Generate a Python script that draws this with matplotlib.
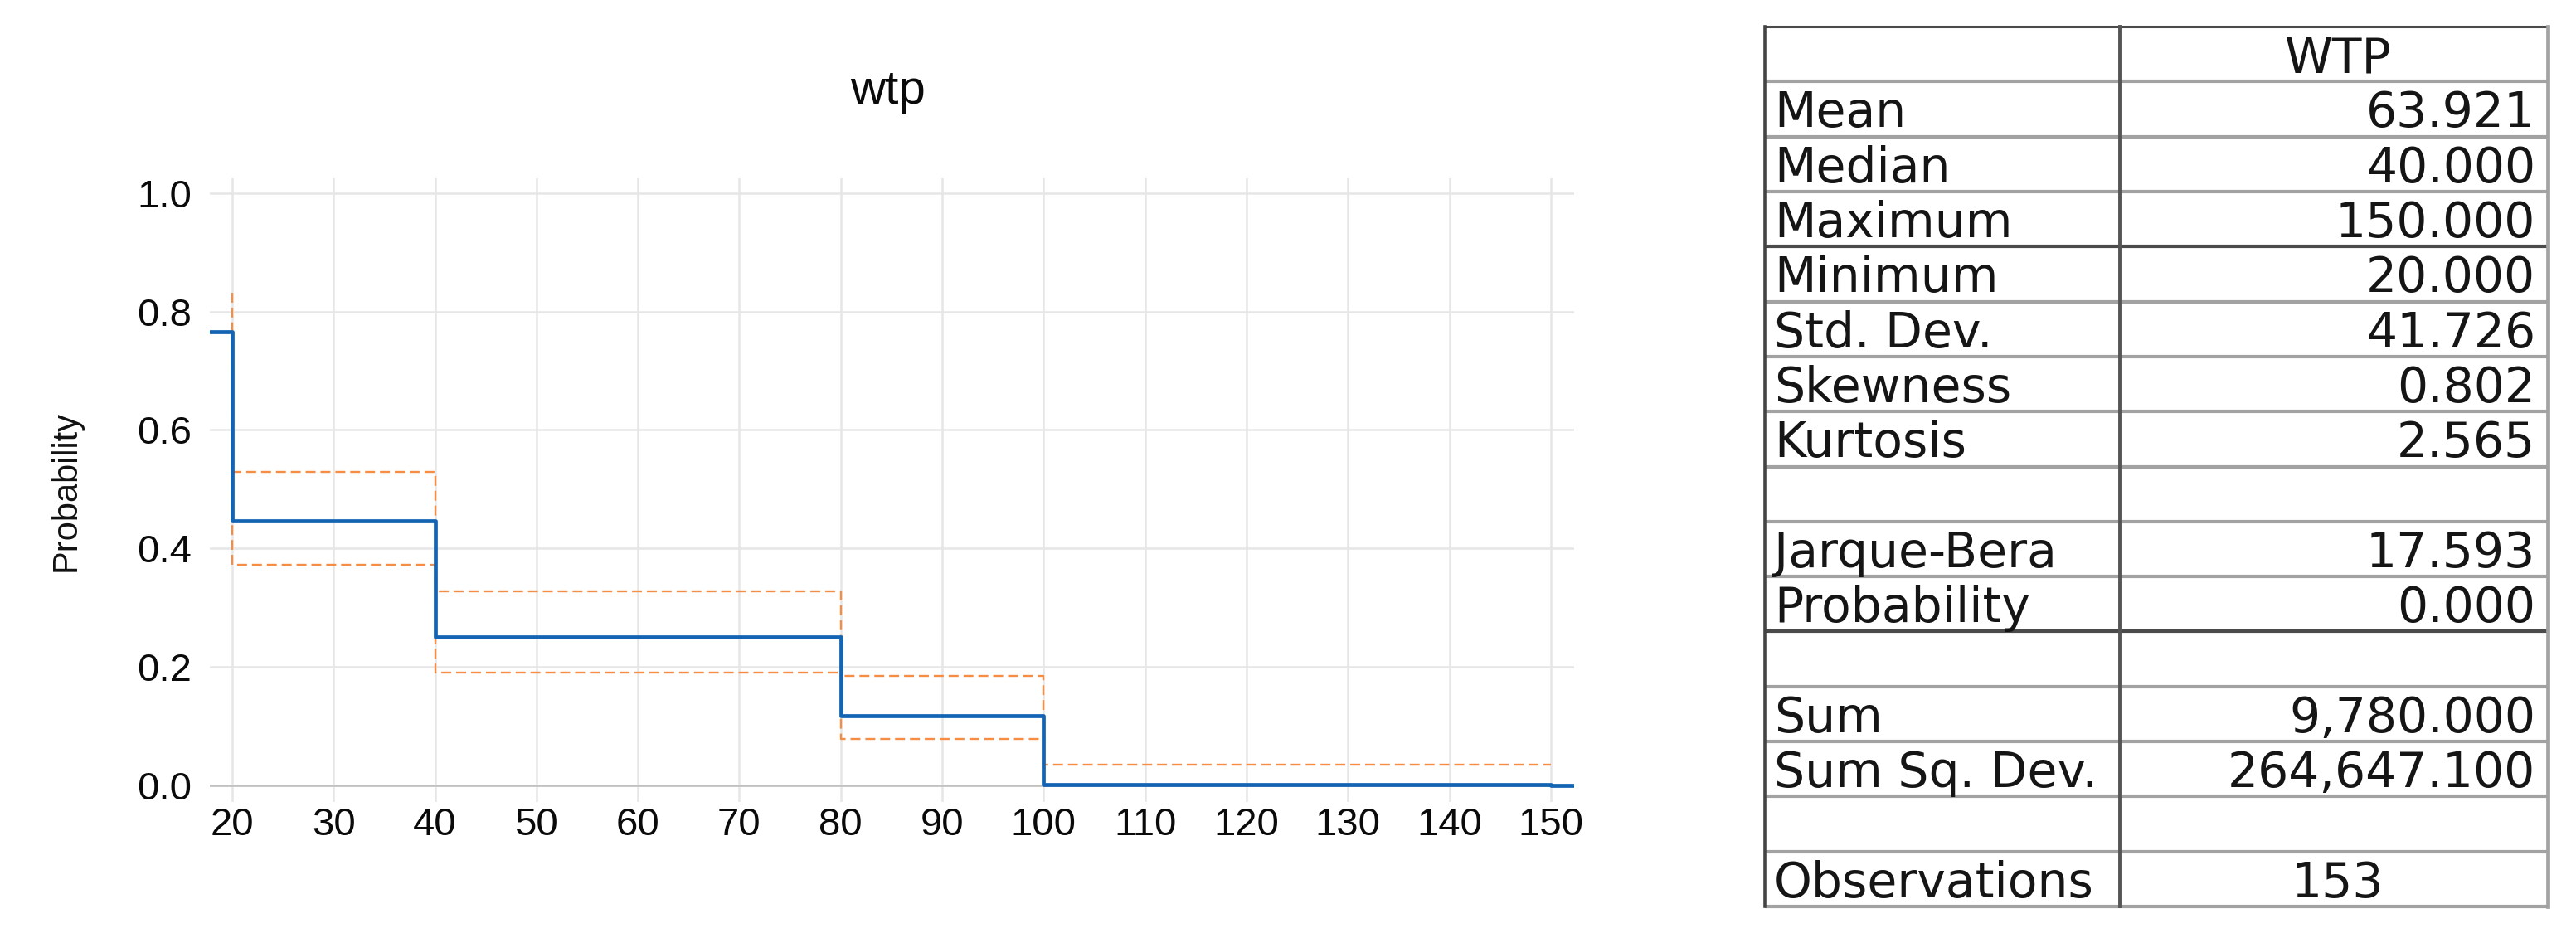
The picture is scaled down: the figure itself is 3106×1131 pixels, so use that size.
import matplotlib
matplotlib.use('Agg')
import matplotlib.pyplot as plt
from matplotlib.ticker import FormatStrFormatter

plt.rcParams['font.family'] = ['Liberation Sans', 'DejaVu Sans']
plt.rcParams['lines.scale_dashes'] = False

# ---------------- data ----------------
title = "wtp"
y_label = "Probability"
x_ticks = [20, 30, 40, 50, 60, 70, 80, 90, 100, 110, 120, 130, 140, 150]
y_ticks = [0.0, 0.2, 0.4, 0.6, 0.8, 1.0]
x_min, x_max = 17.8, 152.3

# estimated probability (step, 'post')
prob_x = [x_min, 20, 40, 80, 100, 150, x_max]
prob_y = [0.766, 0.447, 0.250, 0.118, 0.002, 0.0, 0.0]

# confidence bands (step, 'post')
band_x = [20, 20, 40, 80, 100, 150]
upper_y = [0.831, 0.529, 0.328, 0.185, 0.035, 0.035]
lower_y = [0.690, 0.372, 0.191, 0.079, 0.0, 0.0]

stat_names = ["", "Mean", "Median", "Maximum", "Minimum", "Std. Dev.", "Skewness",
              "Kurtosis", "", "Jarque-Bera", "Probability", "", "Sum",
              "Sum Sq. Dev.", "", "Observations"]
stat_values = ["WTP", "63.921", "40.000", "150.000", "20.000", "41.726", "0.802",
               "2.565", "", "17.593", "0.000", "", "9,780.000", "264,647.100",
               "", "153"]

# ---------------- figure ----------------
W, H = 3106, 1131
fig = plt.figure(figsize=(W / 100, H / 100), dpi=100)

ax = fig.add_axes([253 / W, 164 / H, (1898 - 253) / W, (916 - 164) / H])
ax.set_xlim(x_min, x_max)
ax.set_ylim(-0.028, 1.0248)

blue = '#1464b4'
orange = '#f58d45'

ax.step(band_x, upper_y, where='post', color=orange, lw=1.7,
        dashes=(8.6, 4.3), zorder=3)
ax.step(band_x, lower_y, where='post', color=orange, lw=1.7,
        dashes=(8.6, 4.3), zorder=3)
ax.step(prob_x, prob_y, where='post', color=blue, lw=3.4, zorder=4)

ax.set_xticks(x_ticks)
ax.set_yticks(y_ticks)
ax.yaxis.set_major_formatter(FormatStrFormatter('%.1f'))
ax.grid(True, color='#e6e6e6', lw=1.8)
ax.set_axisbelow(True)
ax.axhline(0, color='#c0c0c0', lw=1.8, zorder=2)
for s in ax.spines.values():
    s.set_visible(False)
ax.tick_params(axis='both', length=0, labelsize=34, colors='#0a0a0a')
ax.tick_params(axis='y', pad=15.5)
ax.tick_params(axis='x', pad=4)

ax.set_ylabel(y_label, fontsize=30, color='#111111')
ax.yaxis.set_label_coords(-0.093, 0.4987)

fig.text(1071 / W, (H - 125) / H, title, ha='center', va='baseline',
         fontsize=42, color='#0a0a0a')

# ---------------- statistics table ----------------
tx0, tx1, ty0, ty1 = 2128, 3072, 32, 1093
tax = fig.add_axes([tx0 / W, (H - ty1) / H, (tx1 - tx0) / W, (ty1 - ty0) / H])
tax.set_xlim(0, 1)
tax.set_ylim(len(stat_names), 0)
tax.axis('off')

div = (2556 - tx0) / (tx1 - tx0)
dark_rows = {0, 4, 11}
n = len(stat_names)
for i in range(n + 1):
    if i in dark_rows:
        tax.plot([0, 1], [i, i], color='#4a4a4a', lw=3.0 if i else 2.2,
                 solid_capstyle='butt', clip_on=False)
    else:
        tax.plot([0, 1], [i, i], color='#a2a2a2', lw=3.0,
                 solid_capstyle='butt', clip_on=False)
tax.plot([0, 0], [0, n], color='#444444', lw=2.6, clip_on=False)
tax.plot([div, div], [0, n], color='#555555', lw=2.8, clip_on=False)
tax.plot([1, 1], [0, n], color='#a3a3a3', lw=3.4, clip_on=False)

txt_kw = dict(fontsize=42, family=['DejaVu Sans'], color='#151515', va='baseline')
lab_x = (2139 - tx0) / (tx1 - tx0)
val_x = (3057 - tx0) / (tx1 - tx0)
mid_x = (2818 - tx0) / (tx1 - tx0)
for i, (name, val) in enumerate(zip(stat_names, stat_values)):
    yb = i + 1 - 0.17
    if name:
        t = tax.text(lab_x, yb, name, ha='left', **txt_kw)
    if val:
        if i == 0 or name == "Observations":
            tax.text(mid_x, yb, val, ha='center', **txt_kw)
        else:
            tax.text(val_x, yb, val, ha='right', **txt_kw)

fig.savefig('out.png', dpi=100, facecolor='white')
